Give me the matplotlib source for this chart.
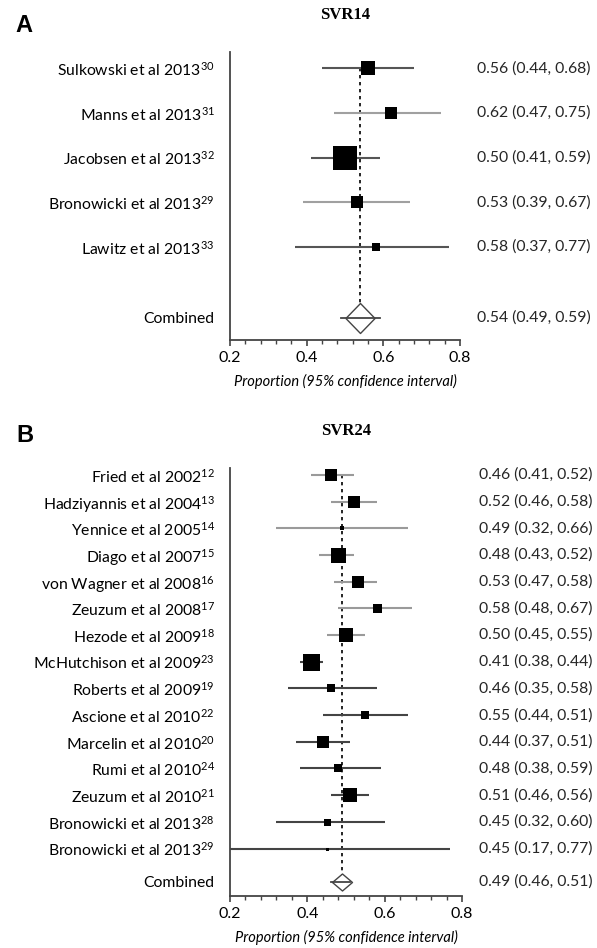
import matplotlib
matplotlib.use("Agg")
import matplotlib.pyplot as plt
from matplotlib.ticker import MultipleLocator

plt.rcParams["font.family"] = ["Lato", "DejaVu Sans"]
plt.rcParams["mathtext.fontset"] = "custom"
plt.rcParams["mathtext.rm"] = "Lato"
plt.rcParams["mathtext.it"] = "Lato:italic"
plt.rcParams["text.color"] = "#262626"

# ---- panel A: SVR14 ----
studies_a = ["Sulkowski et al 2013", "Manns et al 2013", "Jacobsen et al 2013",
             "Bronowicki et al 2013", "Lawitz et al 2013"]
refs_a = ["30", "31", "32", "29", "33"]
est_a = [0.56, 0.62, 0.50, 0.53, 0.58]
lo_a = [0.44, 0.47, 0.41, 0.39, 0.37]
hi_a = [0.68, 0.75, 0.59, 0.67, 0.77]
weight_a = [14, 12, 24, 12, 8]
text_a = ["0.56 (0.44, 0.68)", "0.62 (0.47, 0.75)", "0.50 (0.41, 0.59)",
          "0.53 (0.39, 0.67)", "0.58 (0.37, 0.77)"]
comb_a = (0.54, 0.49, 0.59)
comb_text_a = "0.54 (0.49, 0.59)"

# ---- panel B: SVR24 ----
studies_b = ["Fried et al 2002", "Hadziyannis et al 2004", "Yennice et al 2005",
             "Diago et al 2007", "von Wagner et al 2008", "Zeuzum et al 2008",
             "Hezode et al 2009", "McHutchison et al 2009", "Roberts et al 2009",
             "Ascione et al 2010", "Marcelin et al 2010", "Rumi et al 2010",
             "Zeuzum et al 2010", "Bronowicki et al 2013", "Bronowicki et al 2013"]
refs_b = ["12", "13", "14", "15", "16", "17", "18", "23", "19", "22", "20",
          "24", "21", "28", "29"]
est_b = [0.46, 0.52, 0.49, 0.48, 0.53, 0.58, 0.50, 0.41, 0.46, 0.55, 0.44,
         0.48, 0.51, 0.45, 0.45]
lo_b = [0.41, 0.46, 0.32, 0.43, 0.47, 0.48, 0.45, 0.38, 0.35, 0.44, 0.37,
        0.38, 0.46, 0.32, 0.17]
hi_b = [0.52, 0.58, 0.66, 0.52, 0.58, 0.67, 0.55, 0.44, 0.58, 0.66, 0.51,
        0.59, 0.56, 0.60, 0.77]
weight_b = [12, 12, 5, 15, 12, 9, 14, 17, 8, 8, 12, 8, 14, 7, 3]
text_b = ["0.46 (0.41, 0.52)", "0.52 (0.46, 0.58)", "0.49 (0.32, 0.66)",
          "0.48 (0.43, 0.52)", "0.53 (0.47, 0.58)", "0.58 (0.48, 0.67)",
          "0.50 (0.45, 0.55)", "0.41 (0.38, 0.44)", "0.46 (0.35, 0.58)",
          "0.55 (0.44, 0.51)", "0.44 (0.37, 0.51)", "0.48 (0.38, 0.59)",
          "0.51 (0.46, 0.56)", "0.45 (0.32, 0.60)", "0.45 (0.17, 0.77)"]
comb_b = (0.49, 0.46, 0.51)
comb_text_b = "0.49 (0.46, 0.51)"

line_a = ["#555555", "#a0a0a0", "#555555", "#a0a0a0", "#555555"]
line_b = ["#9a9a9a"] * 7 + ["#444444"] * 8

W, H = 597, 948
fig = plt.figure(figsize=(W / 100, H / 100), dpi=100)


def px_axes(left, top, right, bottom):
    return fig.add_axes([left / W, 1 - bottom / H, (right - left) / W, (bottom - top) / H])


def forest(ax, studies, refs, est, lo, hi, weight, texts, colors, comb, comb_text,
           comb_gap, ylim, dia_w, dia_h):
    n = len(studies)
    ys = list(range(n))
    yc = n - 1 + comb_gap
    # reference line at the combined estimate
    ax.plot([comb[0], comb[0]], [0, yc], color="black", ls=(0, (2, 2.2)), lw=1.2, zorder=1)
    for i in range(n):
        ax.plot([lo[i], hi[i]], [ys[i], ys[i]], color=colors[i], lw=1.5, zorder=2,
                solid_capstyle="butt")
        ax.plot(est[i], ys[i], marker="s", color="black", ms=weight[i] * 0.72,
                mew=0, zorder=3)
    dia = [(-1, 0), (0, dia_h), (1, 0), (0, -dia_h), (-1, 0)]
    ax.plot(comb[0], yc, marker=dia, ms=dia_w * 0.72, mfc="white", mec="#444444",
            mew=1.0, zorder=3)
    ax.plot([comb[1], comb[2]], [yc, yc], color="#444444", lw=1.3, zorder=4)

    ax.set_xlim(0.2, 0.8)
    ax.set_ylim(*ylim)
    ax.set_yticks(ys + [yc])
    ax.set_yticklabels([f"{s}$^{{{r}}}$" for s, r in zip(studies, refs)] + ["Combined"],
                       fontsize=11.3)
    ax.tick_params(axis="y", length=0, pad=11)
    ax.xaxis.set_major_locator(MultipleLocator(0.2))
    ax.xaxis.set_minor_locator(MultipleLocator(0.04))
    ax.set_xticks([0.2, 0.4, 0.6, 0.8])
    ax.set_xticklabels(["0.2", "0.4", "0.6", "0.8"], fontsize=11.5)
    ax.tick_params(axis="x", which="major", length=4, width=1.2, color="#444444", pad=4)
    ax.tick_params(axis="x", which="minor", length=3, width=1.0, color="#444444")
    for s in ["top", "right"]:
        ax.spines[s].set_visible(False)
    for s in ["left", "bottom"]:
        ax.spines[s].set_color("#444444")
        ax.spines[s].set_linewidth(1.3)
    ax.set_xlabel("Proportion (95% confidence interval)", fontsize=10.5,
                  style="italic", labelpad=6)
    tr = ax.get_yaxis_transform()
    for i in range(n):
        ax.text(1.074, ys[i], texts[i], transform=tr, va="center", ha="left",
                fontsize=11.3)
    ax.text(1.074, yc, comb_text, transform=tr, va="center", ha="left", fontsize=11.3)


ax_a = px_axes(230, 52, 460, 340)
forest(ax_a, studies_a, refs_a, est_a, lo_a, hi_a, weight_a, text_a, line_a,
       comb_a, comb_text_a, 1.58, (6.08, -0.36), 30, 1.03)

ax_b = px_axes(230, 468, 462, 896)
forest(ax_b, studies_b, refs_b, est_b, lo_b, hi_b, weight_b, text_b, line_b,
       comb_b, comb_text_b, 1.24, (15.78, -0.26), 20, 0.85)

fig.text(345 / W, 1 - 15 / H, "SVR14", family="Liberation Serif", weight="bold",
         fontsize=12, ha="center", va="center", color="black")
fig.text(346 / W, 1 - 431 / H, "SVR24", family="Liberation Serif", weight="bold",
         fontsize=12, ha="center", va="center", color="black")
fig.text(15 / W, 1 - 25 / H, "A", family="Liberation Sans", weight="bold",
         fontsize=17, ha="left", va="center", color="black")
fig.text(16 / W, 1 - 436 / H, "B", family="Liberation Sans", weight="bold",
         fontsize=17, ha="left", va="center", color="black")

fig.savefig("out.png", dpi=100)
